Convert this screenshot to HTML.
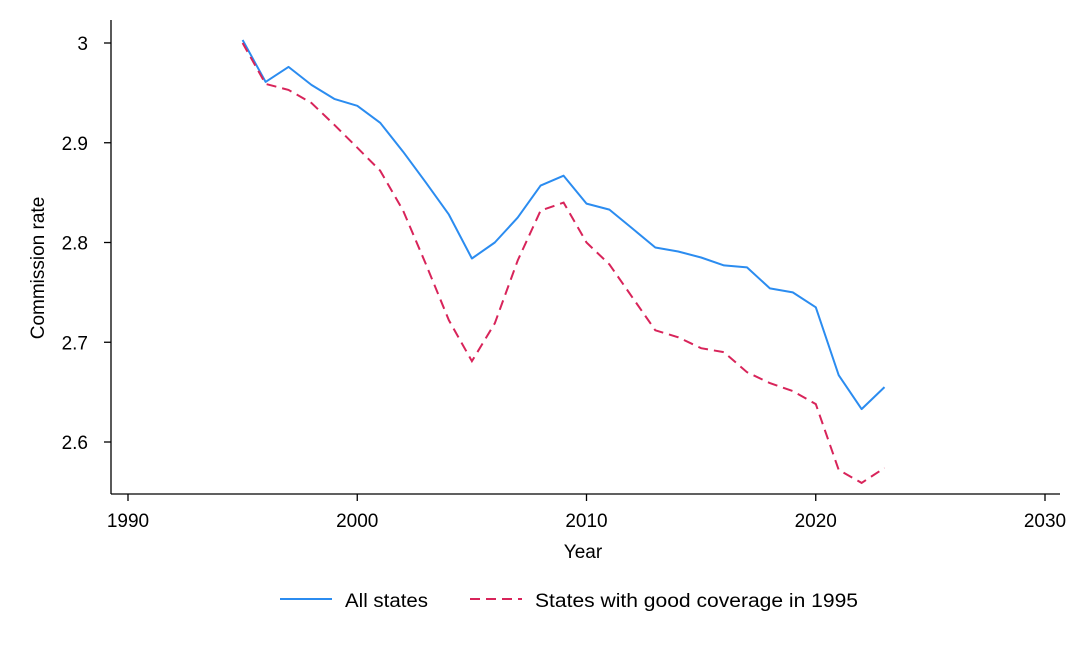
<!DOCTYPE html>
<html><head><meta charset="utf-8"><style>
body{margin:0;background:#fff;}
svg{display:block;font-family:"Liberation Sans",sans-serif;}
</style></head><body>
<svg id="chart" width="1084" height="652" viewBox="0 0 1084 652">
<g id="axes"></g><g id="series"></g>
<g>
<line x1="280" y1="599" x2="332" y2="599" stroke="#2b8cf0" stroke-width="2"/>
<text x="345" y="607" font-size="19" fill="#000" textLength="83" lengthAdjust="spacingAndGlyphs">All states</text>
<line x1="470" y1="599" x2="522" y2="599" stroke="#d8245a" stroke-width="2" stroke-dasharray="10,6"/>
<text x="535" y="607" font-size="19" fill="#000" textLength="323" lengthAdjust="spacingAndGlyphs">States with good coverage in 1995</text>
</g>
</svg>
<script>
const years=[1995,1996,1997,1998,1999,2000,2001,2002,2003,2004,2005,2006,2007,2008,2009,2010,2011,2012,2013,2014,2015,2016,2017,2018,2019,2020,2021,2022,2023];
const allStates=[3.003,2.961,2.976,2.958,2.944,2.937,2.920,2.891,2.860,2.828,2.784,2.800,2.825,2.857,2.867,2.839,2.833,2.814,2.795,2.791,2.785,2.777,2.775,2.754,2.750,2.735,2.667,2.633,2.655];
const goodCoverage=[3.000,2.959,2.953,2.940,2.918,2.895,2.872,2.832,2.778,2.722,2.681,2.719,2.782,2.832,2.840,2.800,2.778,2.745,2.712,2.705,2.694,2.690,2.670,2.659,2.651,2.638,2.572,2.559,2.574];
const xTicks=[1990,2000,2010,2020,2030];
const yTicks=[2.6,2.7,2.8,2.9,3];
const NS="http://www.w3.org/2000/svg";
const xs=v=>128+(v-1990)*(1045-128)/40;
const ys=v=>442-(v-2.6)*(442-43)/0.4;
function mk(tag,attrs,parent,txt){const e=document.createElementNS(NS,tag);for(const k in attrs)e.setAttribute(k,attrs[k]);if(txt!==undefined)e.textContent=txt;parent.appendChild(e);return e;}
const ax=document.getElementById('axes');
let e=mk('line',{x1:111,y1:20,x2:111,y2:494,stroke:'#000','stroke-width':1.3},ax);


e=mk('line',{x1:111,y1:494,x2:1060,y2:494,stroke:'#000','stroke-width':1.3},ax);


xTicks.forEach(t=>{const x=xs(t);
 e=mk('line',{x1:x,y1:494,x2:x,y2:501,stroke:'#000','stroke-width':1.3},ax);
 
 
 e=mk('text',{x:x,y:527,'font-size':19,'text-anchor':'middle'},ax,String(t));
 
 
});
yTicks.forEach(t=>{const y=ys(t);
 e=mk('line',{x1:104,y1:y,x2:111,y2:y,stroke:'#000','stroke-width':1.3},ax);
 
 
 e=mk('text',{x:88,y:y+7,'font-size':19,'text-anchor':'end'},ax,String(t));
 
 
});
e=mk('text',{x:583,y:558,'font-size':19,'text-anchor':'middle'},ax,'Year');


e=mk('text',{x:44,y:268,'font-size':19,'text-anchor':'middle',transform:'rotate(-90 44 268)'},ax,'Commission rate');


const sg=document.getElementById('series');
function pts(arr){return arr.map((v,i)=>xs(years[i]).toFixed(1)+','+ys(v).toFixed(1)).join(' ');}
e=mk('polyline',{points:pts(allStates),fill:'none',stroke:'#2b8cf0','stroke-width':2,'stroke-linejoin':'round'},sg);


e=mk('polyline',{points:pts(goodCoverage),fill:'none',stroke:'#d8245a','stroke-width':2,'stroke-dasharray':'10,6'},sg);


</script>
</body></html>
